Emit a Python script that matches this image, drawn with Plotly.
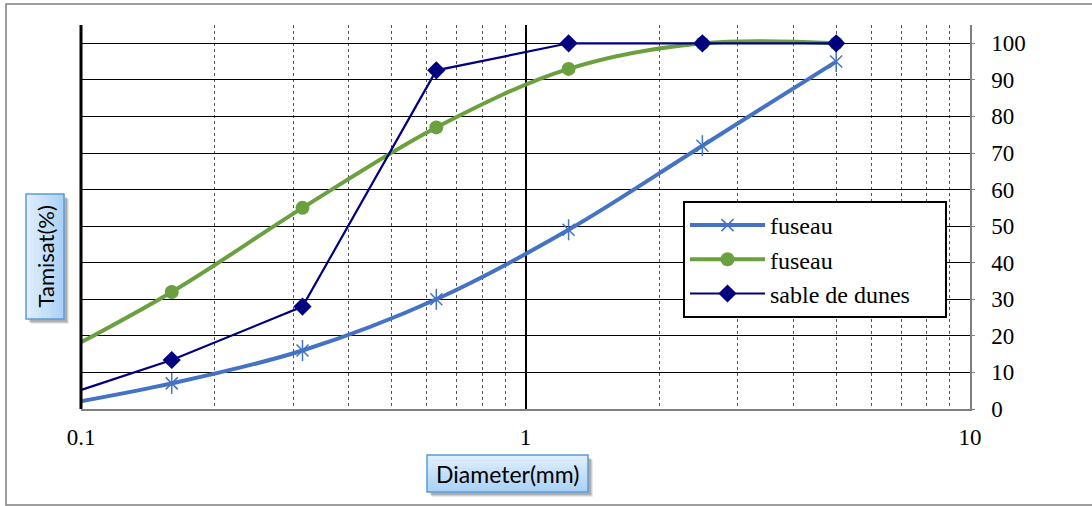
import plotly.graph_objects as go

# Sieve openings (mm) and passing percentages
sieves = [0.08, 0.16, 0.315, 0.63, 1.25, 2.5, 5]
fuseau_low = [0, 7, 16, 30, 49, 72, 95]
fuseau_high = [12, 32, 55, 77, 93, 100, 100]
sable_dunes = [1.3, 13.4, 28, 92.6, 100, 100, 100]

x_major = [0.1, 1, 10]
x_major_text = ["0.1", "1", "10"]
x_minor = [0.2, 0.3, 0.4, 0.5, 0.6, 0.7, 0.8, 0.9, 2, 3, 4, 5, 6, 7, 8, 9]
y_ticks = list(range(0, 101, 10))

W, H = 1092, 506
L, R, T, B = 81, 970, 25, 409


def px(x):
    return (x - L) / (R - L)


def py(y):
    return (B - y) / (B - T)


BLUE = "#4472C4"
GREEN = "#6AA03E"
NAVY = "#000080"
SERIF = "Liberation Serif"
SANS = "Lato"
PAD = "\u00a0" * 5  # keeps the legend box wide on the right

fig = go.Figure()

fig.add_trace(go.Scatter(
    x=sieves, y=fuseau_low, name="fuseau", legendgroup="a",
    mode="lines+markers", line=dict(color=BLUE, width=4, shape="spline", smoothing=1),
    marker=dict(symbol="x-thin-open", size=12, color=BLUE, line=dict(width=1.5, color=BLUE)),
))
fig.add_trace(go.Scatter(
    x=sieves, y=fuseau_low, legendgroup="a", showlegend=False, hoverinfo="skip",
    mode="markers",
    marker=dict(symbol="line-ns-open", size=15, color=BLUE, line=dict(width=1.5, color=BLUE)),
))
fig.add_trace(go.Scatter(
    x=sieves, y=fuseau_high, name="fuseau", legendgroup="b",
    mode="lines+markers", line=dict(color=GREEN, width=4, shape="spline", smoothing=1),
    marker=dict(symbol="circle", size=14, color=GREEN),
))
fig.add_trace(go.Scatter(
    x=sieves, y=sable_dunes, name="sable de dunes" + PAD, legendgroup="c",
    mode="lines+markers", line=dict(color=NAVY, width=2.2),
    marker=dict(symbol="diamond", size=14, color=NAVY),
))

shapes = []
# outer chart frame
shapes.append(dict(type="rect", xref="paper", yref="paper",
                   x0=px(6), x1=px(1098), y0=py(505), y1=py(4),
                   line=dict(color="#7f7f7f", width=1.5), layer="below"))
# heavy left edge of the plot area
shapes.append(dict(type="line", xref="paper", yref="paper",
                   x0=0, x1=0, y0=0, y1=1, line=dict(color="black", width=3)))


def title_box(x0, y0, x1, y1, vertical):
    """Light-blue gradient box with a soft drop shadow."""
    out = []
    for off, a in [(5, 0.08), (4, 0.12), (3, 0.16)]:
        out.append(dict(type="rect", xref="paper", yref="paper",
                        x0=px(x0 + off), x1=px(x1 + off), y0=py(y1 + off), y1=py(y0 + off),
                        line=dict(width=0), fillcolor=f"rgba(0,0,0,{a})"))
    top = (224, 239, 253)
    bot = (172, 210, 247)
    n = 14
    for i in range(n):
        t = i / (n - 1)
        c = tuple(int(top[k] + (bot[k] - top[k]) * t) for k in range(3))
        col = f"rgb{c}"
        if vertical:
            a0 = x0 + (x1 - x0) * i / n
            a1 = x0 + (x1 - x0) * (i + 1) / n
            out.append(dict(type="rect", xref="paper", yref="paper",
                            x0=px(a0), x1=px(a1 + 0.5), y0=py(y1), y1=py(y0),
                            line=dict(width=0), fillcolor=col))
        else:
            b0 = y0 + (y1 - y0) * i / n
            b1 = y0 + (y1 - y0) * (i + 1) / n
            out.append(dict(type="rect", xref="paper", yref="paper",
                            x0=px(x0), x1=px(x1), y0=py(b1 + 0.5), y1=py(b0),
                            line=dict(width=0), fillcolor=col))
    out.append(dict(type="rect", xref="paper", yref="paper",
                    x0=px(x0), x1=px(x1), y0=py(y1), y1=py(y0),
                    line=dict(color="#5B9BD5", width=1.5), fillcolor="rgba(0,0,0,0)"))
    return out


shapes += title_box(427, 455, 588, 492, vertical=False)
shapes += title_box(26, 194, 64, 319, vertical=True)

annotations = [
    dict(text="Diameter(mm)", xref="paper", yref="paper", x=px(507.5), y=py(473.5),
         showarrow=False, font=dict(family=SANS, size=23, color="black"),
         xanchor="center", yanchor="middle"),
    dict(text="Tamisat(%)", xref="paper", yref="paper", x=px(45), y=py(256.5),
         showarrow=False, textangle=-90, font=dict(family=SANS, size=22, color="black"),
         xanchor="center", yanchor="middle"),
]

fig.update_layout(
    width=W, height=H,
    margin=dict(l=L, r=W - R, t=T, b=H - B, pad=0),
    paper_bgcolor="white", plot_bgcolor="white",
    showlegend=True,
    legend=dict(
        x=px(683), y=py(201), xanchor="left", yanchor="top",
        bgcolor="white", bordercolor="black", borderwidth=2,
        font=dict(family=SERIF, size=24, color="black"),
        traceorder="grouped", tracegroupgap=0, itemwidth=75,
    ),
    shapes=shapes,
    annotations=annotations,
)

fig.update_xaxes(
    type="log", range=[-1, 1],
    tickmode="array", tickvals=x_major, ticktext=x_major_text,
    showgrid=True, gridcolor="black", gridwidth=2,
    showline=True, linecolor="#7f7f7f", linewidth=1.5,
    ticks="", ticklabelstandoff=7,
    tickfont=dict(family=SERIF, size=23, color="black"),
    minor=dict(tickmode="array", tickvals=x_minor, showgrid=True,
               gridcolor="#555555", griddash="dot", gridwidth=1, ticks=""),
    zeroline=False,
)
fig.update_yaxes(
    range=[0, 105], side="right",
    tickmode="array", tickvals=y_ticks,
    showgrid=True, gridcolor="black", gridwidth=1,
    showline=True, linecolor="#7f7f7f", linewidth=1.5,
    ticks="outside", ticklen=3, tickcolor="#7f7f7f", ticklabelstandoff=12,
    tickfont=dict(family=SERIF, size=23, color="black"),
    zeroline=False,
)

fig.write_html("out.html")
